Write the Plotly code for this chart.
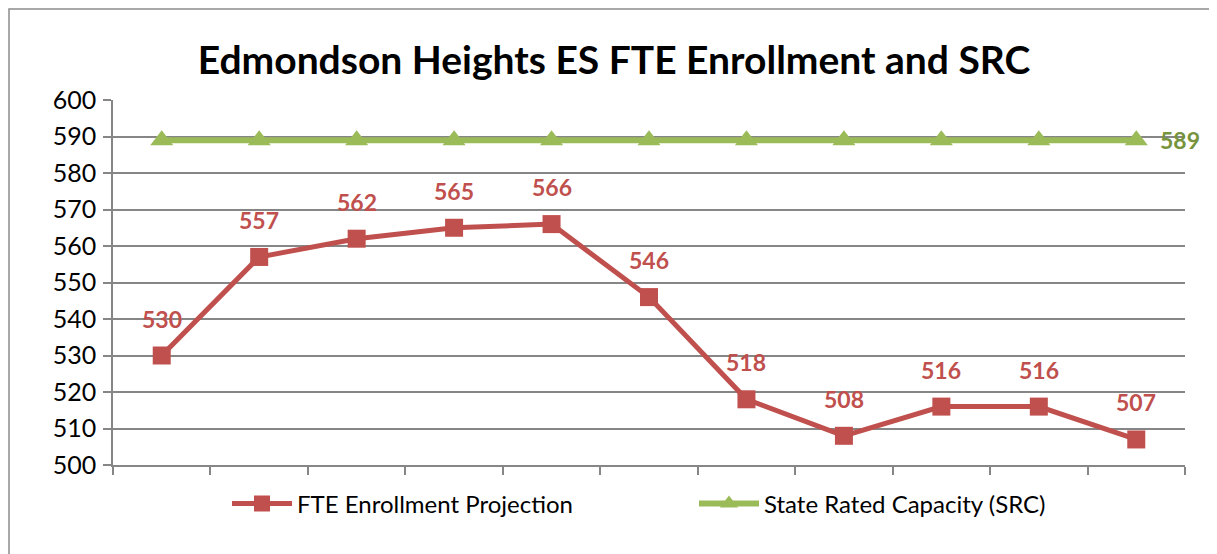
import plotly.graph_objects as go

title = "Edmondson Heights ES FTE Enrollment and SRC"
positions = list(range(11))
enrollment = [530, 557, 562, 565, 566, 546, 518, 508, 516, 516, 507]
capacity = [589] * 11
y_ticks = [500, 510, 520, 530, 540, 550, 560, 570, 580, 590, 600]

RED = "#C0504D"
GREEN = "#9BBB59"
GREEN_TXT = "#77933C"
FONT = "Lato, 'Open Sans', sans-serif"

fig = go.Figure()
fig.add_trace(go.Scatter(
    x=positions, y=enrollment, mode="lines+markers", name="FTE Enrollment Projection",
    line=dict(color=RED, width=5), marker=dict(symbol="square", size=18, color=RED),
    cliponaxis=False))
fig.add_trace(go.Scatter(
    x=positions, y=capacity, mode="lines+markers", name="State Rated Capacity (SRC)",
    line=dict(color=GREEN, width=6), marker=dict(symbol="triangle-up", size=20, color=GREEN),
    cliponaxis=False))

for xi, v in zip(positions, enrollment):
    fig.add_annotation(x=xi, y=v, text=f"<b>{v}</b>", showarrow=False, yshift=37,
                       font=dict(family=FONT, size=23, color=RED))
fig.add_annotation(x=positions[-1], y=capacity[-1], text=f"<b>{capacity[-1]}</b>", showarrow=False,
                   xanchor="left", xshift=22, yshift=0, font=dict(family=FONT, size=23, color=GREEN_TXT))

# page is rendered with an 8px body offset
OFF = 8
W, H = 1217, 554
ml, mt = 113 - OFF, 100 - OFF
mr = W - (1185 - OFF)
mb = H - (465 - OFF)
pw, ph = W - ml - mr, H - mt - mb
fig.add_shape(type="rect", xref="paper", yref="paper",
              x0=(1 - ml) / pw, x1=(1400 - ml) / pw,
              y0=-(700 - (H - mb)) / ph,
              y1=(H - mb - 1) / ph,
              line=dict(color="#8C8C8C", width=1.5), fillcolor="rgba(0,0,0,0)", layer="below")

fig.update_layout(
    width=W, height=H,
    margin=dict(l=ml, r=mr, t=mt, b=mb, autoexpand=False),
    paper_bgcolor="white", plot_bgcolor="white",
    title=dict(text=f"<b>{title}</b>", x=(614 - OFF) / W, xanchor="center", y=1 - (60 - OFF) / H,
               yanchor="middle", font=dict(family=FONT, size=39, color="black")),
    font=dict(family=FONT, size=24, color="black"),
    showlegend=True,
    legend=dict(orientation="h", x=(232 - OFF - ml - 5) / pw, xanchor="left", y=-0.045, yanchor="top",
                font=dict(family=FONT, size=24, color="black"), entrywidth=392, entrywidthmode="pixels",
                itemwidth=60),
    xaxis=dict(range=[-0.5, 10.5], showgrid=False, zeroline=False, showticklabels=False,
               tickmode="array", tickvals=[p - 0.5 for p in positions] + [10.5],
               ticks="outside", ticklen=8, tickcolor="#868686", tickwidth=1.5,
               showline=True, linecolor="#868686", linewidth=1.5),
    yaxis=dict(range=[500, 600], tickmode="array", tickvals=y_ticks,
               showgrid=True, gridcolor="#868686", gridwidth=1.5, zeroline=False,
               ticks="outside", ticklen=8, tickcolor="#868686", tickwidth=1.5,
               showline=True, linecolor="#868686", linewidth=1.5, ticklabelstandoff=2,
               tickfont=dict(family=FONT, size=25, color="black")),
)

fig.write_html("out.html")
